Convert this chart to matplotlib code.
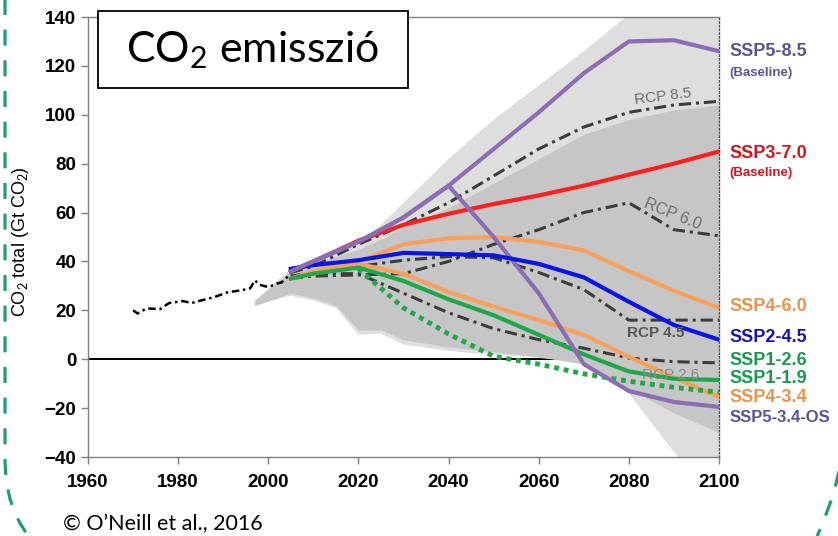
import matplotlib
matplotlib.use("Agg")
import matplotlib.pyplot as plt
from matplotlib.patches import Rectangle, PathPatch
from matplotlib.path import Path

plt.rcParams['font.family'] = ['Liberation Sans', 'DejaVu Sans']
plt.rcParams['mathtext.fontset'] = 'custom'
plt.rcParams['mathtext.rm'] = 'Lato'

# ---------------- data ----------------
hist_years = [1970, 1971, 1973, 1976, 1978, 1980, 1981, 1983, 1985, 1988, 1991,
              1994, 1996, 1997, 1998, 2000, 2002, 2003, 2005]
hist_vals = [20, 18.7, 20.8, 20.5, 23, 23.5, 23.8, 23, 24, 25.4, 27.4,
             28.2, 29, 32.3, 30.5, 29.5, 31, 31.5, 35]

scen_years = [2005, 2010, 2020, 2030, 2040, 2050, 2060, 2070, 2080, 2090, 2100]
ssp585 = [36, 40, 48, 58, 71, 86, 101, 117, 130, 130.5, 126]
ssp534os = [36, 40, 48, 58, 71, 50, 27, -2, -13, -17.5, -19.5]
ssp370 = [36, 40, 48.5, 55, 59.5, 63.5, 67, 71, 75.5, 80, 85]
ssp460 = [33, 36, 40, 47, 49.5, 50, 48, 44.5, 36, 28, 21]
ssp245 = [37, 38.5, 40.5, 43.5, 43, 42.5, 39, 33.5, 23.5, 14, 8]
ssp126 = [33, 35, 37.5, 32, 24.5, 18, 10, 2, -5, -8, -8.5]
ssp434 = [33, 35, 39, 35, 27.5, 21.5, 16, 10, 1, -7.5, -15.5]
ssp119_years = [2020, 2030, 2040, 2050, 2060, 2070, 2080, 2090, 2100]
ssp119 = [37, 21, 10.3, 1.2, -2, -6, -9, -11.5, -13.5]

rcp85 = [35.5, 38, 47, 55, 64, 75, 86, 95, 101, 104, 105.5]
rcp60 = [33, 34, 34.5, 35, 40, 47, 53, 60, 64, 53, 50.5]
rcp45 = [34, 35.5, 38, 40.5, 42, 41.5, 35.5, 28.5, 16, 16, 16]
rcp26 = [34, 35, 35, 27, 19, 12.5, 8, 4.5, 0.5, -1, -1.5]

cloud_years = [1997, 2005, 2010, 2015, 2020, 2025, 2030, 2040, 2045, 2050,
               2060, 2070, 2080, 2090, 2100]
cloud_upper = [24, 37, 40, 43, 47, 55, 64, 82, 90, 98, 112, 126, 141, 155, 170]
cloud_lower = [22, 26, 24, 21, 10, 10.5, 6, 3.5, 2.5, 2, 0.5, -1, -14, -38, -60]
core_upper = [24, 36, 39, 42, 45, 49, 54, 62, 67, 72, 82, 92, 98, 102, 104]
core_lower = [22, 27, 25, 22, 12, 12, 8, 5, 4, 3, 1, -2, -12, -22, -30]

xticks = [1960, 1980, 2000, 2020, 2040, 2060, 2080, 2100]
yticks = [-40, -20, 0, 20, 40, 60, 80, 100, 120, 140]

ssp_labels = ["SSP5-8.5", "SSP3-7.0", "SSP4-6.0", "SSP2-4.5", "SSP1-2.6",
              "SSP1-1.9", "SSP4-3.4", "SSP5-3.4-OS"]
ssp_label_y = [126, 84.3, 21.7, 9, -0.4, -7.8, -15.5, -23.7]
rcp_labels = ["RCP 8.5", "RCP 6.0", "RCP 4.5", "RCP 2.6"]

# ---------------- figure ----------------
W, H = 838, 536
fig = plt.figure(figsize=(W / 100, H / 100), dpi=100)
ax = fig.add_axes([88 / W, 1 - 457 / H, 631 / W, 440 / H])

ax.axhline(0, color='black', lw=1.4, zorder=0.5)
ax.fill_between(cloud_years, cloud_lower, cloud_upper, color='#dedede', lw=0, zorder=1)
ax.fill_between(cloud_years, core_lower, core_upper, color='#c6c6c6', lw=0, zorder=1.1)

ax.plot(hist_years, hist_vals, color='black', lw=1.8,
        linestyle=(0, (3, 1.5, 1, 1.5)), zorder=3)

rcp_style = dict(color='#3c3c3c', lw=2.2, linestyle=(0, (4, 1.6, 1, 1.6)), zorder=3)
for r in (rcp85, rcp60, rcp45, rcp26):
    ax.plot(scen_years, r, **rcp_style)

lw = 3.0
ax.plot(scen_years, ssp370, color='#ff1f1f', lw=lw, zorder=4)
ax.plot(scen_years, ssp460, color='#f7a15c', lw=lw, zorder=4)
ax.plot(scen_years, ssp434, color='#f7a15c', lw=lw, zorder=4)
ax.plot(scen_years, ssp126, color='#1fa84a', lw=lw, zorder=4)
ax.plot(ssp119_years, ssp119, color='#1fa84a', lw=3.5, linestyle=(0, (1, 1)), zorder=4)
ax.plot(scen_years, ssp534os, color='#8a6db3', lw=lw, zorder=4.5)
ax.plot(scen_years, ssp245, color='#0a14e6', lw=lw, zorder=4.6)
ax.plot(scen_years, ssp585, color='#8a6db3', lw=lw, zorder=4.7)

ax.set_xlim(1960, 2100)
ax.set_ylim(-40, 140)
ax.set_xticks(xticks)
ax.set_yticks(yticks)
ax.tick_params(direction='out', length=5, width=1, color='#7f7f7f', labelsize=13.5)
ax.tick_params(axis='x', pad=7)
ax.tick_params(axis='y', pad=3.5)
for lab in ax.get_xticklabels() + ax.get_yticklabels():
    lab.set_fontweight('bold')
for s in ax.spines.values():
    s.set_color('#7f7f7f')
    s.set_linewidth(1)
ax.spines['right'].set_linestyle(':')
ax.spines['right'].set_color('#505050')

ax.set_ylabel(r"CO$_2$ total (Gt CO$_2$)", fontsize=13)
ax.yaxis.set_label_coords(-(88 - 31) / 631, 0.49)

# RCP labels
ax.text(2087.5, 107.6, rcp_labels[0], color='#6e6e6e', fontsize=11, rotation=7,
        ha='center', va='center', zorder=6)
ax.text(2089.7, 59.3, rcp_labels[1], color='#6e6e6e', fontsize=11.5, rotation=-22,
        ha='center', va='center', zorder=6)
ax.text(2086, 10.6, rcp_labels[2], color='#555555', fontsize=11, fontweight='bold',
        ha='center', va='center', zorder=6)
ax.text(2089.3, -6.5, rcp_labels[3], color='#8a8a8a', fontsize=11,
        ha='center', va='center', zorder=6)

# SSP labels
ssp_colors = ['#5c5293', '#d4141c', '#e8934e', '#1414b4', '#189a4c', '#189a4c',
              '#e8934e', '#5c5293']
ssp_sizes = [13, 13, 13, 13, 13, 13, 13, 12]
for lab, yv, c, fs in zip(ssp_labels, ssp_label_y, ssp_colors, ssp_sizes):
    ax.text(2102.4, yv, lab, color=c, fontsize=fs, fontweight='bold',
            ha='left', va='center', clip_on=False)
ax.text(2102.4, 117, "(Baseline)", color='#5c5293', fontsize=9.5, fontweight='bold',
        ha='left', va='center', clip_on=False)
ax.text(2102.4, 76, "(Baseline)", color='#d4141c', fontsize=9.5, fontweight='bold',
        ha='left', va='center', clip_on=False)

# title box
fig.patches.append(Rectangle((98 / W, 1 - 88 / H), 310 / W, 77 / H,
                             transform=fig.transFigure, facecolor='white',
                             edgecolor='black', lw=1.3, zorder=5))
fig.text(253 / W, 1 - 50 / H, r"CO$_\mathrm{2}$ emisszió", fontsize=31,
         family='Lato', ha='center', va='center', zorder=6)

fig.text(63 / W, 1 - 524 / H, "© O’Neill et al., 2016", fontsize=15.5,
         family='Lato', ha='left', va='center')

# dashed green frame
def fp(x, y):
    return (x / W, 1 - y / H)

left = Path([fp(5, -10), fp(5, 455), fp(5, 492), fp(12, 520), fp(40, 550)],
            [Path.MOVETO, Path.LINETO, Path.CURVE4, Path.CURVE4, Path.CURVE4])
right = Path([fp(845, 410), fp(845, 460), fp(836, 495), fp(812, 548)],
             [Path.MOVETO, Path.CURVE4, Path.CURVE4, Path.CURVE4])
for p in (left, right):
    fig.patches.append(PathPatch(p, transform=fig.transFigure, fill=False,
                                 edgecolor='#1f9d74', lw=2.3,
                                 linestyle=(0, (5, 4.6)), zorder=2))

fig.savefig("out.png", dpi=100)
